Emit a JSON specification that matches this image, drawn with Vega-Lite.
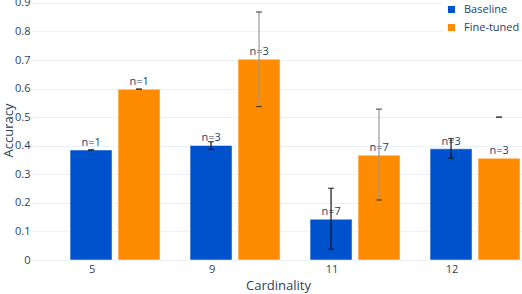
{
  "$schema": "https://vega.github.io/schema/vega-lite/v6.json",
  "width": 489,
  "height": 260,
  "autosize": {"type": "none"},
  "padding": {"left": 33, "top": 0, "right": 0, "bottom": 34},
  "background": "white",
  "config": {
    "font": "Open Sans",
    "view": {"stroke": null},
    "axis": {"labelColor": "#2a3f5f", "titleColor": "#2a3f5f", "labelFontSize": 11, "titleFontSize": 13, "titleFontWeight": "normal", "gridColor": "#ebf0f8", "domain": false, "ticks": false},
    "legend": {"labelColor": "#2a3f5f", "labelFontSize": 11}
  },
  "data": {
    "values": [
      {"card": "5", "model": "Baseline", "acc": 0.385, "lo": 0.385, "hi": 0.385, "n": "n=1"},
      {"card": "5", "model": "Fine-tuned", "acc": 0.598, "lo": 0.598, "hi": 0.598, "n": "n=1"},
      {"card": "9", "model": "Baseline", "acc": 0.401, "lo": 0.387, "hi": 0.414, "n": "n=3"},
      {"card": "9", "model": "Fine-tuned", "acc": 0.703, "lo": 0.537, "hi": 0.868, "n": "n=3"},
      {"card": "11", "model": "Baseline", "acc": 0.143, "lo": 0.038, "hi": 0.251, "n": "n=7"},
      {"card": "11", "model": "Fine-tuned", "acc": 0.367, "lo": 0.21, "hi": 0.528, "n": "n=7"},
      {"card": "12", "model": "Baseline", "acc": 0.389, "lo": 0.356, "hi": 0.425, "n": "n=3"},
      {"card": "12", "model": "Fine-tuned", "acc": 0.356, "lo": 0.5, "hi": 0.5, "n": "n=3"}
    ]
  },
  "encoding": {
    "x": {"field": "card", "type": "nominal", "sort": ["5", "9", "11", "12"],
      "scale": {"paddingInner": 0.25, "paddingOuter": 0.1625, "align": 0.95},
      "axis": {"title": "Cardinality", "labelAngle": 0, "labelPadding": 3, "titlePadding": 5, "grid": false, "labelOffset": -23, "titleX": 245}},
    "xOffset": {"field": "model", "type": "nominal", "scale": {"paddingInner": 0.125, "paddingOuter": 0}}
  },
  "layer": [
    {
      "mark": {"type": "bar", "stroke": "white", "strokeOpacity": 0.5, "strokeWidth": 1},
      "encoding": {
        "y": {"field": "acc", "type": "quantitative", "scale": {"domain": [0, 0.91], "nice": false},
          "axis": {"title": "Accuracy", "values": [0, 0.1, 0.2, 0.3, 0.4, 0.5, 0.6, 0.7, 0.8, 0.9], "format": ".1~f", "labelOverlap": false, "labelBound": false, "labelPadding": 3, "titleX": -25, "titleBaseline": "middle"}},
        "color": {"field": "model", "type": "nominal",
          "scale": {"domain": ["Baseline", "Fine-tuned"], "range": ["#0052cc", "#ff8c00"]},
          "legend": {"title": null, "orient": "none", "legendX": 409, "legendY": 0, "symbolType": "square", "symbolSize": 50, "symbolStrokeWidth": 0, "labelOffset": 7, "rowPadding": 6, "fillColor": "white", "padding": 4}}
      }
    },
    {
      "mark": {"type": "text", "baseline": "alphabetic", "dy": -4, "fontSize": 11, "color": "#2a3f5f"},
      "encoding": {
        "y": {"field": "acc", "type": "quantitative",
          "axis": {"title": "Accuracy", "values": [0, 0.1, 0.2, 0.3, 0.4, 0.5, 0.6, 0.7, 0.8, 0.9], "format": ".1~f", "labelOverlap": false, "labelBound": false, "labelPadding": 3, "titleX": -25, "titleBaseline": "middle"}},
        "text": {"field": "n", "type": "nominal"}
      }
    },
    {
      "mark": {"type": "rule", "strokeWidth": 1.2},
      "encoding": {
        "y": {"field": "lo", "type": "quantitative",
          "axis": {"title": "Accuracy", "values": [0, 0.1, 0.2, 0.3, 0.4, 0.5, 0.6, 0.7, 0.8, 0.9], "format": ".1~f", "labelOverlap": false, "labelBound": false, "labelPadding": 3, "titleX": -25, "titleBaseline": "middle"}},
        "y2": {"field": "hi"},
        "color": {"condition": {"test": "datum.model === 'Baseline'", "value": "#111111"}, "value": "#999999"}
      }
    },
    {
      "mark": {"type": "tick", "size": 6, "thickness": 1.3},
      "encoding": {
        "y": {"field": "lo", "type": "quantitative",
          "axis": {"title": "Accuracy", "values": [0, 0.1, 0.2, 0.3, 0.4, 0.5, 0.6, 0.7, 0.8, 0.9], "format": ".1~f", "labelOverlap": false, "labelBound": false, "labelPadding": 3, "titleX": -25, "titleBaseline": "middle"}},
        "color": {"condition": {"test": "datum.model === 'Baseline'", "value": "#111111"}, "value": "#222222"}
      }
    },
    {
      "mark": {"type": "tick", "size": 6, "thickness": 1.3},
      "encoding": {
        "y": {"field": "hi", "type": "quantitative",
          "axis": {"title": "Accuracy", "values": [0, 0.1, 0.2, 0.3, 0.4, 0.5, 0.6, 0.7, 0.8, 0.9], "format": ".1~f", "labelOverlap": false, "labelBound": false, "labelPadding": 3, "titleX": -25, "titleBaseline": "middle"}},
        "color": {"condition": {"test": "datum.model === 'Baseline'", "value": "#111111"}, "value": "#222222"}
      }
    }
  ]
}
